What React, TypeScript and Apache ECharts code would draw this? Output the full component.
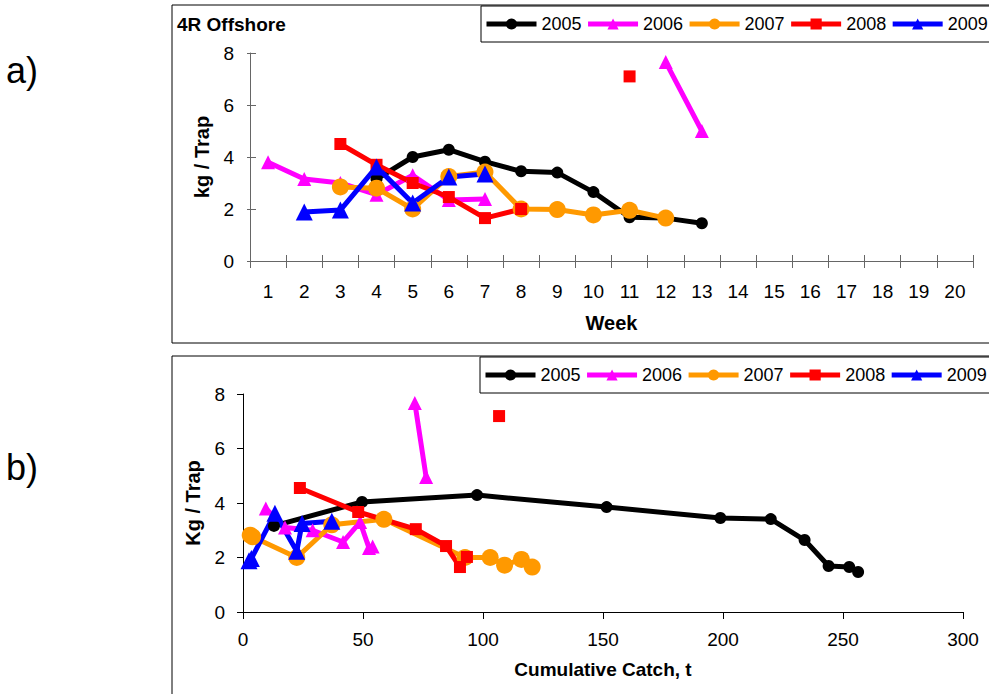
import React, { useEffect, useRef } from "react";
import * as echarts from "echarts";

const weeks = ["1","2","3","4","5","6","7","8","9","10","11","12","13","14","15","16","17","18","19","20"];
const yearNames = ["2005", "2006", "2007", "2008", "2009"];
const yearColors = ["#000000", "#FF00FF", "#FF9900", "#FF0000", "#0000FF"];
const yearSymbols = ["circle", "triangle", "circle", "rect", "triangle"];
const yearSymbolSizes = [12, 14, 17, 12, 17];

// a) kg / trap by week
const week2005 = [null, null, null, 3.15, 4.0, 4.28, 3.82, 3.45, 3.4, 2.65, 1.68, 1.65, 1.45, null, null, null, null, null, null, null];
const week2006 = [3.8, 3.15, 3.0, 2.55, 3.3, 2.35, 2.38, null, null, null, null, 7.65, 5.0, null, null, null, null, null, null, null];
const week2007 = [null, null, 2.85, 2.8, 2.0, 3.25, 3.42, 2.0, 1.98, 1.77, 1.95, 1.65, null, null, null, null, null, null, null, null];
const week2008 = [null, null, 4.5, 3.7, 3.0, 2.46, 1.65, 2.0, null, null, 7.1, null, null, null, null, null, null, null, null, null];
const week2009 = [null, 1.88, 1.96, 3.62, 2.23, 3.23, 3.35, null, null, null, null, null, null, null, null, null, null, null, null, null];

// b) kg / trap by cumulative catch (t)
const cum2005 = [[12.9, 3.16], [49.6, 4.04], [97.5, 4.29], [151.5, 3.85], [198.9, 3.45], [219.9, 3.41], [234, 2.64], [244, 1.69], [252.6, 1.65], [256.3, 1.47]];
const cum2006 = [[9.5, 3.8], [17.5, 3.1], [29, 3.0], [41.7, 2.57], [48.8, 3.3], [52.5, 2.35], [54, 2.4], [62, "-"], [71.6, 7.67], [76.3, 4.95]];
const cum2007 = [[3, 2.82], [4, 2.76], [22.4, 2.0], [37, 3.2], [58.7, 3.4], [92.5, 2.0], [103, 2.0], [109, 1.72], [116, 1.93], [120.5, 1.65]];
const cum2008 = [[23.7, 4.55], [48, 3.67], [72, 3.04], [84.6, 2.42], [90.4, 1.65], [93.3, 2.02], [100, "-"], [106.7, 7.19]];
const cum2009 = [[2.5, 1.88], [3.5, 1.96], [13.3, 3.62], [22.4, 2.23], [24.6, 3.25], [37, 3.33]];

const weekData = [week2005, week2006, week2007, week2008, week2009];
const cumData = [cum2005, cum2006, cum2007, cum2008, cum2009];

const FONT = "Liberation Sans, Arial, sans-serif";

export default function App() {
  const ref = useRef<HTMLDivElement>(null);
  useEffect(() => {
    if (!ref.current) return;
    const chart = echarts.init(ref.current, null, { renderer: "svg" });
    const topAxisColor = "#666666";
    const series: any[] = [];
    yearNames.forEach((name, i) => {
      series.push({
        name,
        type: "line",
        xAxisIndex: 0,
        yAxisIndex: 0,
        data: weekData[i],
        symbol: yearSymbols[i],
        symbolSize: yearSymbolSizes[i],
        showAllSymbol: true,
        connectNulls: false,
        lineStyle: { color: yearColors[i], width: 5 },
        itemStyle: { color: yearColors[i] },
      });
    });
    yearNames.forEach((name, i) => {
      series.push({
        name,
        type: "line",
        xAxisIndex: 1,
        yAxisIndex: 1,
        data: cumData[i],
        symbol: yearSymbols[i],
        symbolSize: yearSymbolSizes[i],
        showAllSymbol: true,
        connectNulls: false,
        lineStyle: { color: yearColors[i], width: 5 },
        itemStyle: { color: yearColors[i] },
      });
    });

    const legendCommon = {
      data: yearNames,
      orient: "horizontal",
      width: 700,
      itemWidth: 50,
      itemHeight: 14,
      itemGap: 4,
      borderColor: "#000",
      borderWidth: 1,
      backgroundColor: "#fff",
      lineStyle: { width: 5 },
      textStyle: { fontFamily: FONT, fontSize: 18, color: "#000" },
      padding: [9, 60, 9, 3],
    };

    chart.setOption({
      animation: false,
      backgroundColor: "#fff",
      textStyle: { fontFamily: FONT },
      grid: [
        { left: 250, right: 16, top: 53, height: 208 },
        { left: 243, right: 26, top: 394, height: 218 },
      ],
      legend: [
        { ...legendCommon, left: 481, top: 6 },
        { ...legendCommon, left: 480, top: 357 },
      ],
      xAxis: [
        {
          type: "category",
          gridIndex: 0,
          position: "bottom",
          data: weeks,
          boundaryGap: true,
          name: "Week",
          nameLocation: "middle",
          nameGap: 52,
          nameTextStyle: { fontFamily: FONT, fontSize: 20, fontWeight: "bold", color: "#000" },
          axisLine: { lineStyle: { color: topAxisColor, width: 1 } },
          axisTick: { show: true, inside: false, length: 7, lineStyle: { color: topAxisColor } },
          axisLabel: { fontFamily: FONT, fontSize: 19, color: "#000", margin: 21 },
          splitLine: { show: false },
        },
        {
          type: "value",
          gridIndex: 1,
          position: "bottom",
          min: 0,
          max: 300,
          interval: 50,
          name: "Cumulative Catch, t",
          nameLocation: "middle",
          nameGap: 48,
          nameTextStyle: { fontFamily: FONT, fontSize: 19, fontWeight: "bold", color: "#000" },
          axisLine: { lineStyle: { color: "#000", width: 1 } },
          axisTick: { show: true, inside: false, length: 7, lineStyle: { color: "#000" } },
          axisLabel: { fontFamily: FONT, fontSize: 19, color: "#000", margin: 18 },
          splitLine: { show: false },
        },
        {
          type: "category",
          gridIndex: 0,
          position: "bottom",
          data: weeks,
          boundaryGap: true,
          axisLine: { show: false },
          axisTick: { show: true, inside: true, length: 6, lineStyle: { color: topAxisColor } },
          axisLabel: { show: false },
          splitLine: { show: false },
        },
      ],
      yAxis: [
        {
          type: "value",
          gridIndex: 0,
          position: "left",
          min: 0,
          max: 8,
          interval: 2,
          name: "kg / Trap",
          nameLocation: "middle",
          nameGap: 38,
          nameRotate: 90,
          nameTextStyle: { fontFamily: FONT, fontSize: 20, fontWeight: "bold", color: "#000" },
          axisLine: { show: true, lineStyle: { color: topAxisColor, width: 1 } },
          axisTick: { show: true, inside: true, length: 6, lineStyle: { color: topAxisColor } },
          axisLabel: { fontFamily: FONT, fontSize: 19, color: "#000", margin: 16 },
          splitLine: { show: false },
        },
        {
          type: "value",
          gridIndex: 1,
          position: "left",
          min: 0,
          max: 8,
          interval: 2,
          name: "Kg / Trap",
          nameLocation: "middle",
          nameGap: 40,
          nameRotate: 90,
          nameTextStyle: { fontFamily: FONT, fontSize: 20, fontWeight: "bold", color: "#000" },
          axisLine: { show: true, lineStyle: { color: "#000", width: 1 } },
          axisTick: { show: true, inside: false, length: 6, lineStyle: { color: "#000" } },
          axisLabel: { fontFamily: FONT, fontSize: 19, color: "#000", margin: 18 },
          splitLine: { show: false },
        },
        {
          type: "value",
          gridIndex: 0,
          position: "left",
          offset: 0,
          min: 0,
          max: 8,
          interval: 2,
          axisLine: { show: false },
          axisTick: { show: true, inside: false, length: 3, lineStyle: { color: topAxisColor } },
          axisLabel: { show: false },
          splitLine: { show: false },
        },
      ],
      graphic: [
        { type: "rect", shape: { x: 172, y: 5, width: 840, height: 338 }, style: { fill: "none", stroke: "#000", lineWidth: 1 }, z: -1 },
        { type: "rect", shape: { x: 172, y: 356, width: 840, height: 360 }, style: { fill: "none", stroke: "#000", lineWidth: 1 }, z: -1 },
        { type: "text", x: 6, y: 70, style: { text: "a)", font: `36px ${FONT}`, fill: "#000", textVerticalAlign: "middle" } },
        { type: "text", x: 6, y: 467, style: { text: "b)", font: `36px ${FONT}`, fill: "#000", textVerticalAlign: "middle" } },
        { type: "text", x: 177, y: 24, style: { text: "4R Offshore", font: `bold 19px ${FONT}`, fill: "#000", textVerticalAlign: "middle" } },
      ],
      series,
    });
    return () => chart.dispose();
  }, []);
  return <div ref={ref} style={{ position: "fixed", left: 0, top: 0, width: 989, height: 694 }} />;
}
